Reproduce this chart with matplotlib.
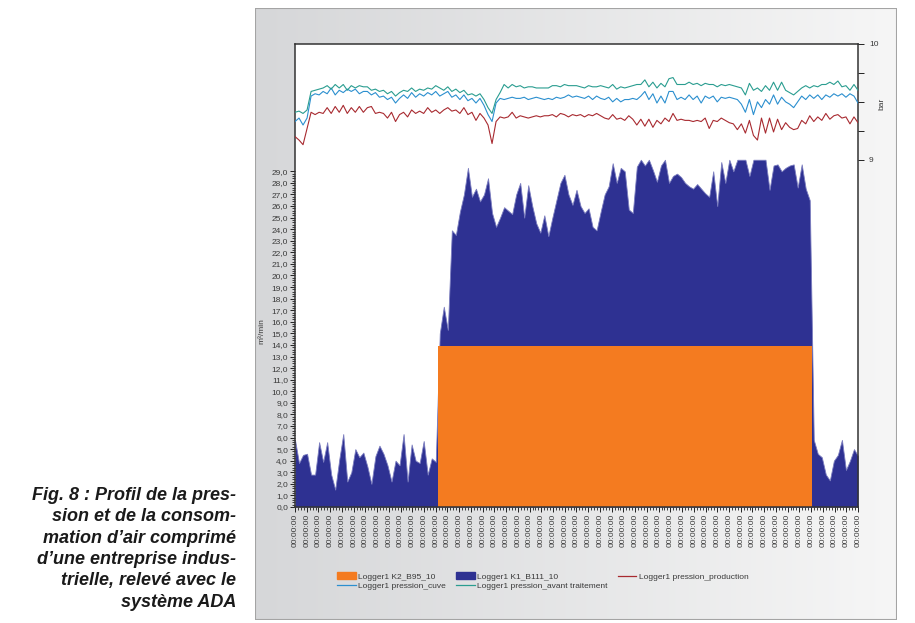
import numpy as np
import matplotlib.pyplot as plt
from matplotlib.colors import LinearSegmentedColormap
from matplotlib.patches import Rectangle
from matplotlib.lines import Line2D
from matplotlib.patches import Patch

plt.rcParams['font.family'] = ['Liberation Sans', 'DejaVu Sans']

# flow (m3/min), one sample per step along the time axis
k1_b111 = [5.8, 3.8, 4.5, 4.6, 2.8, 2.8, 5.6, 3.9, 5.6, 2.8,
           1.5, 4.1, 6.3, 2.2, 3.0, 5.0, 4.3, 4.7, 3.5, 2.0,
           4.4, 5.3, 4.6, 3.6, 2.2, 4.0, 3.6, 6.3, 2.2, 5.4,
           4.0, 3.8, 5.7, 2.8, 4.2, 3.9, 15.0, 17.3, 15.3, 23.9,
           23.5, 25.5, 27.0, 29.3, 26.8, 27.5, 26.4, 27.0, 28.4, 25.4,
           24.2, 25.0, 25.9, 25.6, 25.3, 27.0, 28.0, 25.0, 27.8, 26.0,
           24.5, 23.7, 25.2, 23.4, 25.0, 26.5, 28.0, 28.7, 27.0, 26.1,
           27.4, 26.0, 25.4, 25.8, 24.2, 23.9, 25.5, 27.0, 27.7, 29.7,
           28.0, 29.3, 29.0, 25.7, 25.4, 29.4, 30.0, 29.5, 30.0, 29.1,
           28.1, 29.5, 30.0, 28.0, 28.6, 28.8, 28.5, 28.0, 27.7, 27.5,
           27.9, 27.5, 27.1, 26.8, 29.0, 26.0, 29.8, 28.0, 30.0, 29.0,
           30.0, 30.0, 30.0, 28.6, 30.0, 30.0, 30.0, 30.0, 27.4, 29.5,
           29.6, 29.0, 29.3, 29.5, 29.6, 27.6, 29.6, 27.5, 26.5, 5.8,
           4.6, 4.3, 2.8, 2.3, 4.0, 4.5, 5.8, 3.2, 4.0, 5.0,
           4.4]
k2_b95 = [0.0] * 36 + [13.9] * 93 + [0.0] * 12

# pressures (bar)
p_avant = [9.41, 9.42, 9.40, 9.43, 9.59, 9.60, 9.61, 9.62, 9.64, 9.61,
           9.65, 9.62, 9.65, 9.60, 9.64, 9.62, 9.64, 9.63, 9.63, 9.60,
           9.61, 9.59, 9.60, 9.57, 9.59, 9.55, 9.58, 9.60, 9.59, 9.62,
           9.59, 9.61, 9.60, 9.62, 9.61, 9.64, 9.62, 9.60, 9.63, 9.59,
           9.61, 9.58, 9.60, 9.56, 9.57, 9.55, 9.57, 9.52, 9.45, 9.40,
           9.52, 9.58, 9.65, 9.62, 9.65, 9.63, 9.64, 9.62, 9.63, 9.63,
           9.62, 9.62, 9.62, 9.62, 9.64, 9.64, 9.63, 9.65, 9.64, 9.64,
           9.64, 9.63, 9.62, 9.64, 9.63, 9.63, 9.64, 9.63, 9.62, 9.65,
           9.61, 9.63, 9.62, 9.63, 9.64, 9.65, 9.65, 9.69, 9.63, 9.67,
           9.62, 9.66, 9.63, 9.70, 9.71, 9.65, 9.65, 9.65, 9.67, 9.65,
           9.66, 9.64, 9.66, 9.65, 9.65, 9.63, 9.65, 9.64, 9.65, 9.64,
           9.63, 9.62, 9.56, 9.66, 9.60, 9.62, 9.59, 9.64, 9.60, 9.67,
           9.60, 9.67, 9.60, 9.58, 9.56, 9.59, 9.62, 9.64, 9.62, 9.64,
           9.63, 9.65, 9.65, 9.67, 9.65, 9.68, 9.63, 9.64, 9.60, 9.65,
           9.60]
p_cuve = [9.33, 9.36, 9.30, 9.36, 9.55, 9.57, 9.56, 9.59, 9.57, 9.62,
          9.56, 9.60, 9.58, 9.61, 9.59, 9.61, 9.57, 9.59, 9.59, 9.56,
          9.58, 9.54, 9.55, 9.52, 9.54, 9.49, 9.53, 9.56, 9.53, 9.58,
          9.54, 9.57, 9.55, 9.58, 9.56, 9.59, 9.55, 9.57, 9.59, 9.54,
          9.56, 9.52, 9.56, 9.51, 9.53, 9.49, 9.53, 9.47, 9.39, 9.33,
          9.49, 9.53, 9.52, 9.53, 9.54, 9.53, 9.53, 9.54, 9.52, 9.53,
          9.54, 9.53, 9.52, 9.53, 9.52, 9.54, 9.53, 9.54, 9.56, 9.54,
          9.55, 9.54, 9.53, 9.55, 9.52, 9.55, 9.53, 9.52, 9.54, 9.50,
          9.53, 9.50, 9.52, 9.52, 9.53, 9.52, 9.55, 9.59, 9.52, 9.57,
          9.49, 9.55, 9.49, 9.59, 9.59, 9.52, 9.54, 9.52, 9.56, 9.52,
          9.55, 9.49, 9.55, 9.53, 9.55, 9.50, 9.54, 9.53, 9.54, 9.53,
          9.52, 9.48, 9.41, 9.52, 9.39, 9.50, 9.45, 9.52, 9.48, 9.56,
          9.48, 9.54, 9.50, 9.48, 9.45, 9.50, 9.55, 9.52, 9.56, 9.53,
          9.56, 9.52, 9.56, 9.54, 9.57, 9.55, 9.57, 9.54, 9.57, 9.55,
          9.49]
p_production = [9.20, 9.17, 9.13, 9.27, 9.41, 9.39, 9.41, 9.40, 9.45, 9.40,
                9.46, 9.41, 9.47, 9.40, 9.45, 9.41, 9.46, 9.41, 9.45, 9.46,
                9.40, 9.41, 9.40, 9.36, 9.41, 9.33, 9.39, 9.41, 9.37, 9.43,
                9.40, 9.42, 9.40, 9.45, 9.41, 9.43, 9.40, 9.43, 9.45, 9.42,
                9.43, 9.40, 9.45, 9.39, 9.41, 9.34, 9.40, 9.36, 9.30, 9.14,
                9.33, 9.37, 9.36, 9.37, 9.41, 9.36, 9.38, 9.37, 9.36, 9.37,
                9.38, 9.37, 9.38, 9.38, 9.39, 9.37, 9.40, 9.39, 9.37, 9.39,
                9.38, 9.39, 9.37, 9.39, 9.38, 9.40, 9.38, 9.36, 9.35, 9.39,
                9.35, 9.36, 9.34, 9.38, 9.35, 9.30, 9.35, 9.29, 9.35, 9.28,
                9.34, 9.31, 9.36, 9.33, 9.40, 9.34, 9.35, 9.34, 9.34, 9.33,
                9.34, 9.33, 9.36, 9.27, 9.34, 9.33, 9.36, 9.34, 9.32, 9.31,
                9.26, 9.31, 9.23, 9.34, 9.21, 9.17, 9.36, 9.23, 9.36, 9.24,
                9.35, 9.26, 9.32, 9.28, 9.26, 9.27, 9.34, 9.31, 9.38, 9.33,
                9.37, 9.34, 9.40, 9.35, 9.38, 9.39, 9.36, 9.37, 9.31, 9.37,
                9.32]

n_labels = 49
time_label = "00:00:00"

caption = ("Fig. 8 : Profil de la pres-\n"
           "sion et de la consom-\n"
           "mation d\u2019air comprim\u00e9\n"
           "d\u2019une entreprise indus-\n"
           "trielle, relev\u00e9 avec le\n"
           "syst\u00e8me ADA")

x = np.arange(len(k1_b111))
txt = '#3a3a3a'

fig = plt.figure(figsize=(9.15, 6.23), dpi=100)

# grey gradient panel behind the chart
bg = fig.add_axes([0.2787, 0.0048, 0.7016, 0.9822])
cmap = LinearSegmentedColormap.from_list('panel', ['#d6d7d9', '#f6f6f6'])
bg.imshow(np.linspace(0, 1, 256).reshape(1, -1), aspect='auto', cmap=cmap,
          extent=[0, 1, 0, 1])
bg.add_patch(Rectangle((0, 0), 1, 1, transform=bg.transAxes, fill=False,
                       edgecolor='#a4a4a4', lw=1.5))
bg.set_axis_off()

ax = fig.add_axes([0.3224, 0.1862, 0.6153, 0.7432])
ax.set_facecolor('white')
ax.fill_between(x, k1_b111, color='#2e3192', edgecolor='#7b7dbf', lw=0.6)
ax.fill_between(x, k2_b95, step='mid', color='#f47b20', lw=0)
ax.set_xlim(0, len(x) - 1)
ax.set_ylim(0, 40)

ax.set_yticks(np.arange(0, 30))
ax.set_yticklabels([f"{v},0" for v in range(30)])
ax.set_yticks(np.arange(0, 29.01, 0.2), minor=True)
ax.set_ylabel("m\u00b3/min", fontsize=6, color=txt)
ax.yaxis.set_label_coords(-0.052, 0.38)

xt = np.linspace(0, len(x) - 1, n_labels)
ax.set_xticks(xt)
ax.set_xticklabels([time_label] * n_labels, rotation=90)
ax.set_xticks(np.linspace(0, len(x) - 1, (n_labels - 1) * 4 + 1), minor=True)

ax.tick_params(axis='both', which='major', labelsize=6, length=3.5, width=0.7,
               colors='#222222', labelcolor=txt, pad=1.5)
ax.tick_params(axis='both', which='minor', length=2, width=0.6, colors='#222222')
for s in ax.spines.values():
    s.set_color('#333333')
    s.set_linewidth(1.1)

ax2 = ax.twinx()
ax2.plot(x, p_production, color='#a82a30', lw=0.8)
ax2.plot(x, p_cuve, color='#2b8fcf', lw=0.8)
ax2.plot(x, p_avant, color='#2a9d90', lw=0.8)
ax2.set_ylim(6, 10)
ax2.set_yticks([9, 10])
ax2.set_yticklabels(['9', '10'])
ax2.set_yticks([9.25, 9.5, 9.75], minor=True)
ax2.tick_params(axis='y', which='major', labelsize=6, length=4, width=0.7,
                colors='#222222', labelcolor=txt, pad=4)
ax2.tick_params(axis='y', which='minor', length=4, width=0.7, colors='#222222')
ax2.set_ylabel("bar", fontsize=6, color=txt)
ax2.yaxis.set_label_coords(1.036, 0.87)
for s in ax2.spines.values():
    s.set_visible(False)

handles = [Patch(color='#f47b20'), Line2D([], [], color='#2b8fcf', lw=0.9),
           Patch(color='#2e3192'), Line2D([], [], color='#2a9d90', lw=0.9),
           Line2D([], [], color='#a82a30', lw=0.9)]
labels = ["Logger1 K2_B95_10", "Logger1 pression_cuve",
          "Logger1 K1_B111_10", "Logger1 pression_avant traitement",
          "Logger1 pression_production"]
fig.legend(handles, labels, ncol=3, loc='upper left',
           bbox_to_anchor=(0.364, 0.088), frameon=False, fontsize=6.0,
           handlelength=2.2, handleheight=0.9, handletextpad=0.35,
           columnspacing=1.2, labelspacing=0.1, borderpad=0,
           labelcolor=txt)

fig.text(0.258, 0.218, caption, ha='right', va='top', multialignment='right',
         fontsize=13, fontweight='bold', fontstyle='italic', linespacing=1.33,
         color='#1a1a1a',
         family=['Liberation Sans Narrow', 'Liberation Sans', 'DejaVu Sans'])

fig.savefig('out.png', dpi=100)
